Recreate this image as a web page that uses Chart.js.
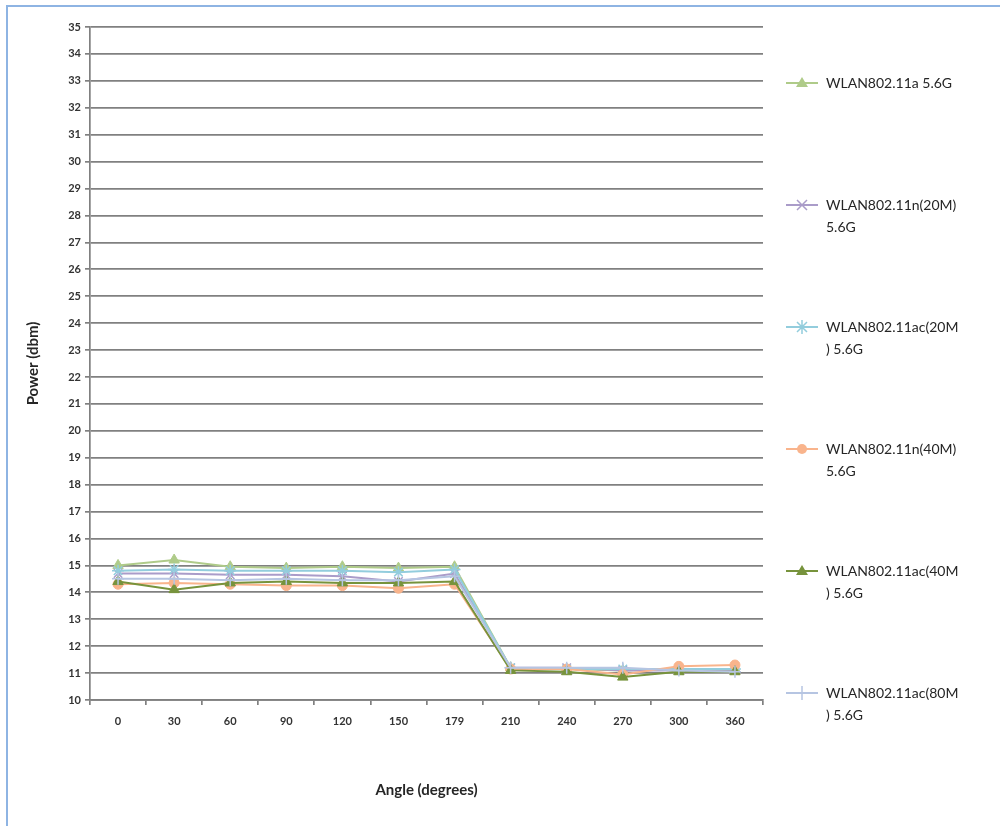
<!DOCTYPE html>
<html>
<head>
<meta charset="utf-8">
<script src="https://cdn.jsdelivr.net/npm/chart.js@4"></script>
<style>
  html, body { margin: 0; padding: 0; background: #fff; }
  #wrap { position: relative; width: 1000px; height: 826px; overflow: hidden; }
  #frame { position: absolute; left: 6px; top: 5px; width: 1000px; height: 840px; border: 2px solid #8eb4e3; box-sizing: border-box; }
  #chartBox { position: absolute; left: 0; top: 0; width: 1000px; height: 826px; }
  #legend { position: absolute; left: 784px; top: 0; width: 216px; font-family: Lato, "Open Sans", sans-serif; font-size: 14px; color: #262626; }
  .item { position: absolute; left: 0; display: flex; align-items: flex-start; }
  .item svg { flex: none; margin-top: 1px; }
  .item span { margin-left: 6px; line-height: 22px; width: 170px; }
</style>
</head>
<body>
<div id="wrap">
  <div id="frame"></div>
  <div id="chartBox"><canvas id="lineChart" width="1000" height="826"></canvas></div>
  <div id="legend"></div>
</div>
<script>
const angles = ['0', '30', '60', '90', '120', '150', '179', '210', '240', '270', '300', '360'];

const seriesNames = [
    ['WLAN802.11a 5.6G'],
    ['WLAN802.11n(20M)', '5.6G'],
    ['WLAN802.11ac(20M', ') 5.6G'],
    ['WLAN802.11n(40M)', '5.6G'],
    ['WLAN802.11ac(40M', ') 5.6G'],
    ['WLAN802.11ac(80M', ') 5.6G']
];

const wlanA      = [15.0, 15.2, 14.95, 14.9, 14.95, 14.9, 14.95, 11.2, 11.15, 11.1, 11.15, 11.15];
const wlanN20    = [14.7, 14.7, 14.65, 14.65, 14.6, 14.4, 14.7, 11.2, 11.2, 11.1, 11.1, 11.1];
const wlanAc20   = [14.8, 14.85, 14.8, 14.8, 14.8, 14.75, 14.85, 11.2, 11.15, 11.15, 11.15, 11.15];
const wlanN40    = [14.3, 14.35, 14.3, 14.25, 14.25, 14.15, 14.3, 11.15, 11.15, 10.95, 11.25, 11.3];
const wlanAc40   = [14.4, 14.1, 14.35, 14.4, 14.35, 14.35, 14.4, 11.1, 11.05, 10.85, 11.05, 11.05];
const wlanAc80   = [14.5, 14.5, 14.45, 14.5, 14.45, 14.45, 14.6, 11.2, 11.2, 11.2, 11.1, 11.05];

const colors = ['#afcb89', '#aa9cc9', '#93cddd', '#f9b48c', '#77933c', '#b6c5e2'];
const markers = ['triangle', 'crossRot', 'star', 'circle', 'triangle', 'cross'];

document.addEventListener('DOMContentLoaded', function() {

    const allSeries = [wlanA, wlanN20, wlanAc20, wlanN40, wlanAc40, wlanAc80];

    const datasets = allSeries.map((vals, i) => ({
        label: seriesNames[i].join(''),
        data: vals,
        borderColor: colors[i],
        backgroundColor: colors[i],
        borderWidth: 2,
        pointStyle: markers[i],
        pointRadius: markers[i] === 'circle' ? 5 : 6,
        pointBorderWidth: markers[i] === 'triangle' || markers[i] === 'circle' ? 1 : 1.5,
        tension: 0,
        fill: false,
        order: 5 - i
    }));

    const font = { family: 'Lato, "Open Sans", sans-serif' };

    new Chart(document.getElementById('lineChart'), {
        type: 'line',
        data: { labels: angles, datasets: datasets },
        options: {
            responsive: false,
            animation: false,
            layout: { padding: { left: 20, top: 27, right: 237, bottom: 16 } },
            plugins: {
                legend: { display: false },
                tooltip: { enabled: false }
            },
            scales: {
                x: {
                    offset: true,
                    grid: { offset: true, drawOnChartArea: false, color: '#808080', lineWidth: 1.7, tickLength: 5 },
                    border: { color: '#808080', width: 1.7 },
                    ticks: { color: '#333', font: { ...font, size: 11, weight: 'bold' }, padding: 10, maxRotation: 0 },
                    title: { display: true, text: 'Angle (degrees)', color: '#262626', font: { ...font, size: 15, weight: 'bold' }, padding: { top: 4, bottom: 11 } },
                    afterFit: (scale) => { scale.height = 110; }
                },
                y: {
                    min: 10,
                    max: 35,
                    ticks: { stepSize: 1, color: '#333', font: { ...font, size: 11, weight: 'bold' }, padding: 4 },
                    grid: { color: '#808080', lineWidth: 1.7, tickLength: 5 },
                    border: { color: '#808080', width: 1.7 },
                    title: { display: true, text: 'Power (dbm)', color: '#262626', font: { ...font, size: 15, weight: 'bold' }, padding: { bottom: 0 } },
                    afterFit: (scale) => { scale.width = 70; }
                }
            }
        }
    });

    // legend on the right, one entry every 122px
    const legend = document.getElementById('legend');
    const svgNS = 'http://www.w3.org/2000/svg';
    seriesNames.forEach((lines, i) => {
        const item = document.createElement('div');
        item.className = 'item';
        item.style.top = (72 + i * 122) + 'px';
        const svg = document.createElementNS(svgNS, 'svg');
        svg.setAttribute('width', '36');
        svg.setAttribute('height', '20');
        const c = colors[i];
        let shape = `<line x1="2" y1="10" x2="34" y2="10" stroke="${c}" stroke-width="2"/>`;
        if (markers[i] === 'triangle') {
            shape += `<polygon points="18,4 24,14 12,14" fill="${c}"/>`;
        } else if (markers[i] === 'crossRot') {
            shape += `<path d="M13,5 L23,15 M23,5 L13,15" stroke="${c}" stroke-width="1.5"/>`;
        } else if (markers[i] === 'star') {
            shape += `<path d="M13,5 L23,15 M23,5 L13,15 M18,3 L18,17" stroke="${c}" stroke-width="1.5"/>`;
        } else if (markers[i] === 'circle') {
            shape += `<circle cx="18" cy="10" r="5" fill="${c}"/>`;
        } else {
            shape += `<path d="M18,3 L18,17" stroke="${c}" stroke-width="1.5"/>`;
        }
        svg.innerHTML = shape;
        const text = document.createElement('span');
        text.innerHTML = lines.join('<br>');
        item.appendChild(svg);
        item.appendChild(text);
        legend.appendChild(item);
    });
});
</script>
</body>
</html>
